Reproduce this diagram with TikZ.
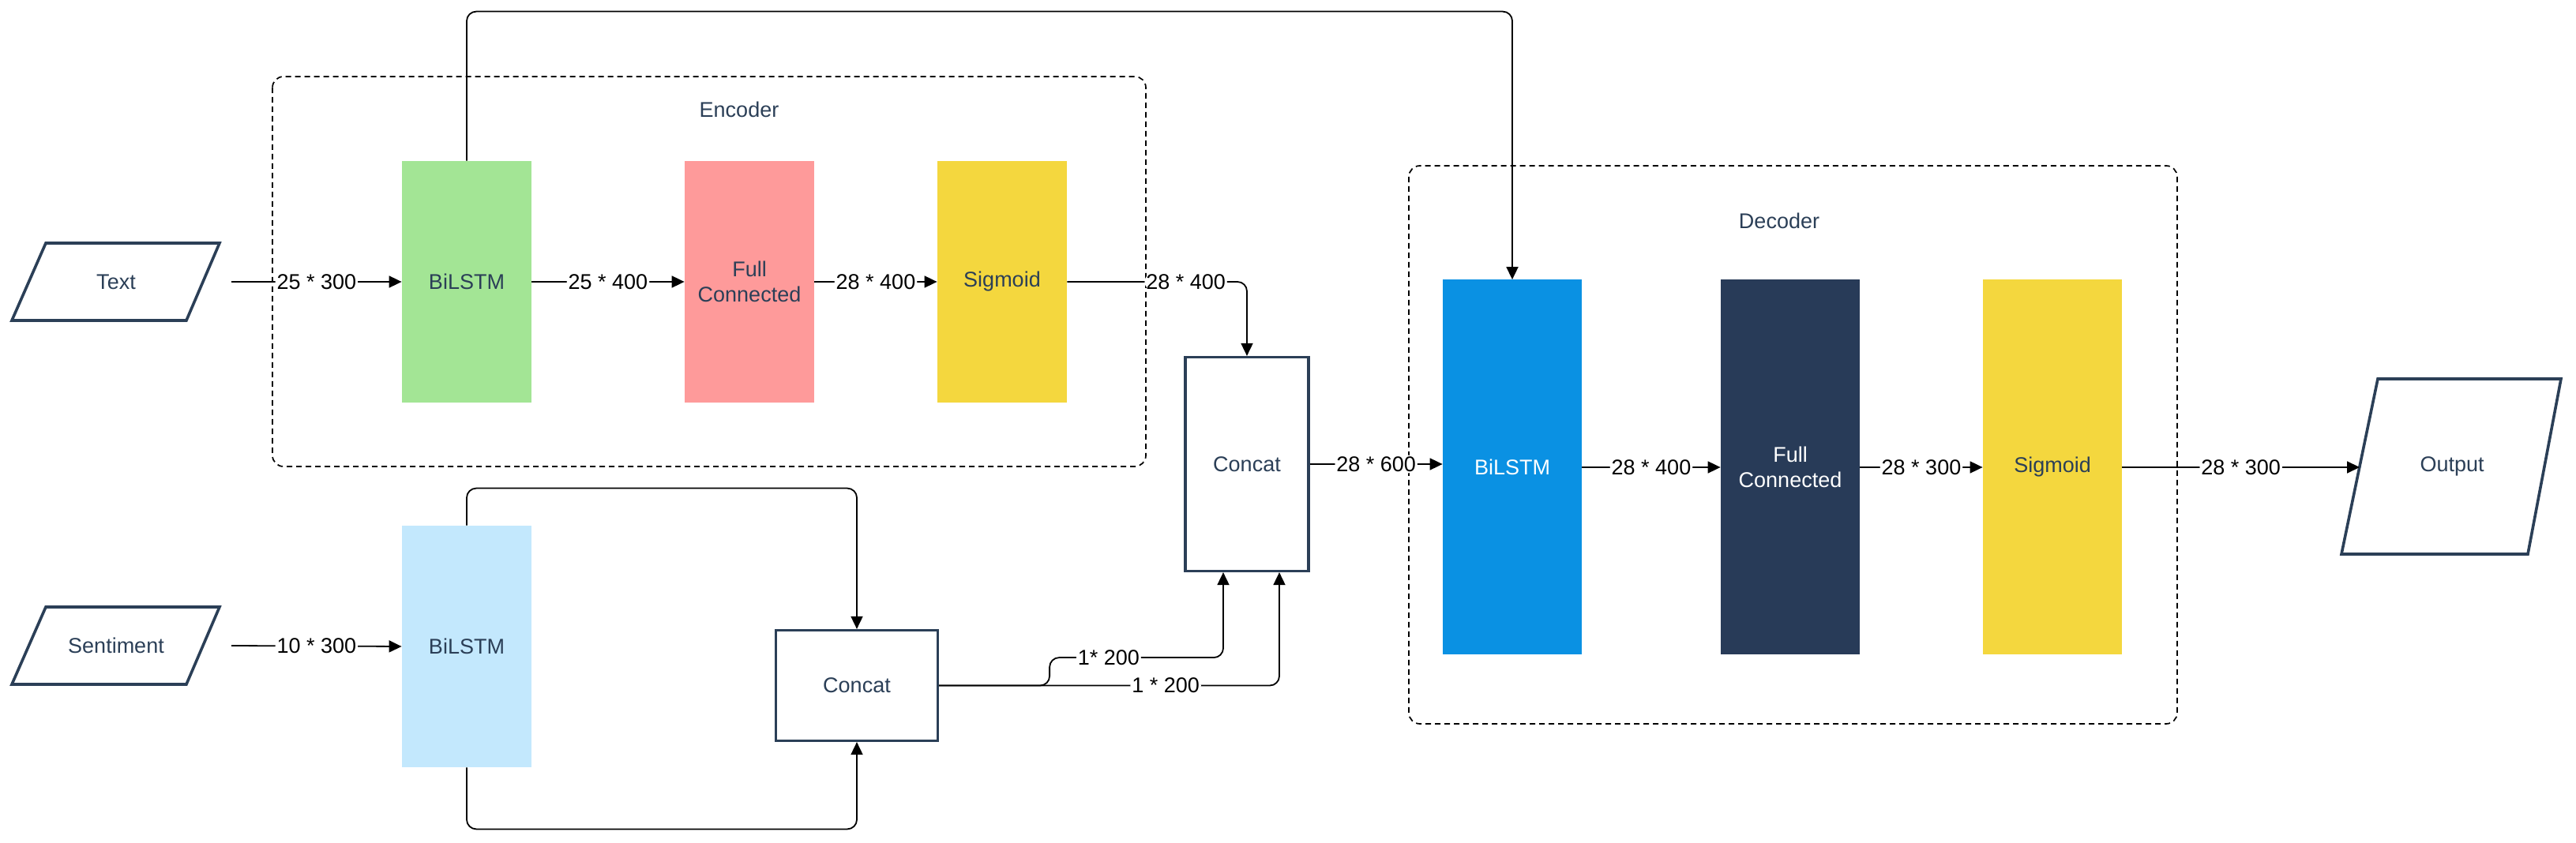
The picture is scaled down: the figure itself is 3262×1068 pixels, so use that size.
\documentclass[tikz,border=0pt]{standalone}
\usepackage{fontspec}
\setmainfont{Liberation Sans}
\usetikzlibrary{arrows.meta,calc}
\definecolor{navy}{HTML}{2B3F57}
\definecolor{grn}{HTML}{A3E595}
\definecolor{pnk}{HTML}{FE9A9A}
\definecolor{ylw}{HTML}{F4D73E}
\definecolor{lbl}{HTML}{C3E8FD}
\definecolor{blu}{HTML}{0A91E3}
\definecolor{dnv}{HTML}{283B58}
\begin{document}
\begin{tikzpicture}[x=0.5pt,y=-0.5pt,
  every node/.style={font=\fontsize{13.5}{16}\selectfont},
  eblk/.style={draw=none, minimum width=82pt, minimum height=153pt, inner sep=0pt, text=navy, align=center},
  dblk/.style={draw=none, minimum width=88pt, minimum height=237.5pt, inner sep=0pt, text=navy, align=center},
  catbox/.style={draw=navy, line width=1.6pt, fill=white, inner sep=0pt, text=navy},
  conn/.style={line width=0.9pt, -{Triangle[length=8pt,width=7.5pt]}, rounded corners=6pt},
  elbl/.style={fill=white, inner sep=1pt, text=black},
  grp/.style={draw=black, line width=0.85pt, dash pattern=on 3.5pt off 2.5pt, rounded corners=7pt},
  para/.style={draw=navy, line width=1.8pt, fill=white, line join=miter},
  ptxt/.style={text=navy}
]
\useasboundingbox[fill=white] (0,0) rectangle (3262,1068);

% group frames
\draw[grp] (345,97) rectangle (1451,591);
\node[ptxt] (enclab) at (936,139) {Encoder};
\draw[grp] (1784,210) rectangle (2757,917);
\node[ptxt] (declab) at (2253,280) {Decoder};

% inputs
\draw[para] (58,308) -- (278,308) -- (236,406) -- (15,406) -- cycle;
\node[ptxt] (txt) at (147,357) {Text};
\draw[para] (58,769) -- (278,769) -- (236,867) -- (15,867) -- cycle;
\node[ptxt] (sent) at (147,818) {Sentiment};
\coordinate (tin) at (293,357);
\coordinate (sin) at (293,818);

% encoder blocks
\node[eblk, fill=grn] (eb) at (591,357) {BiLSTM};
\node[eblk, fill=pnk] (ef) at (949,357) {Full\\Connected};
\node[eblk, fill=ylw] (es) at (1269,357) {Sigmoid};

% sentiment block
\node[eblk, fill=lbl] (sb) at (591,819) {BiLSTM};

% concat boxes
\node[catbox, minimum width=78pt, minimum height=135.5pt] (c1) at (1579,588) {Concat};
\node[catbox, minimum width=102.5pt, minimum height=70pt] (c2) at (1085,868.5) {Concat};

% decoder blocks
\node[dblk, fill=blu, text=white] (db) at (1915,592) {BiLSTM};
\node[dblk, fill=dnv, text=white] (df) at (2267,592) {Full\\Connected};
\node[dblk, fill=ylw] (ds) at (2599,592) {Sigmoid};

% output
\draw[para] (3011,480) -- (3243,480) -- (3201,702) -- (2965,702) -- cycle;
\node[ptxt] (outn) at (3105,591) {Output};
\coordinate (oin) at (2988,592);

% connectors
\draw[conn] (tin) -- node[elbl]{25 * 300} (eb.west);
\draw[conn] (eb.east) -- node[elbl]{25 * 400} (ef.west);
\draw[conn] (ef.east) -- node[elbl]{28 * 400} (es.west);
\draw[conn] (es.east) -| node[pos=0.33,elbl]{28 * 400} (c1.north);
\draw[conn] (eb.north) -- ++(0,-189) -| (db.north);

\draw[conn] (sin) -- node[elbl]{10 * 300} (sb.west);
\draw[conn] (sb.north) -- ++(0,-47) -| (c2.north);
\draw[conn] (sb.south) -- ++(0,78) -| (c2.south);

\coordinate (j1) at ($(c1.south)+(-30,108)$);
\coordinate (j2) at ($(c1.south)+(41,0)$);
\draw[conn] (c2.east) -- ++(140,0) |- node[pos=0.67,elbl]{1* 200} (j1) -- (j1 |- c1.south);
\draw[conn] (c2.east) -| node[pos=0.333,elbl]{1 * 200} (j2);

\draw[conn] (c1.east) -- node[elbl]{28 * 600} (c1.east -| db.west);
\draw[conn] (db.east) -- node[elbl]{28 * 400} (df.west);
\draw[conn] (df.east) -- node[elbl]{28 * 300} (ds.west);
\draw[conn] (ds.east) -- node[elbl]{28 * 300} (oin);
\end{tikzpicture}
\end{document}
